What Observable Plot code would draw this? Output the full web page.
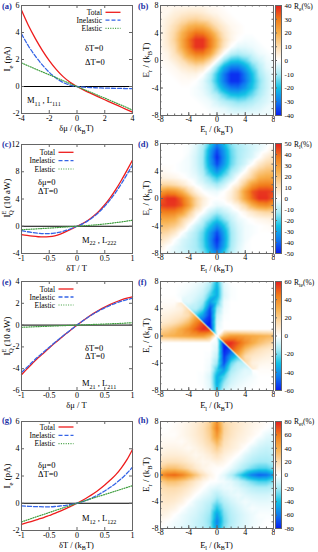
<!DOCTYPE html>
<html><head><meta charset="utf-8">
<script src="https://cdn.jsdelivr.net/npm/d3@7"></script>
<script src="https://cdn.jsdelivr.net/npm/@observablehq/plot@0.6"></script>
<style>
body{margin:0;background:#fff;}
#fig{position:relative;width:318px;height:552px;overflow:hidden;}
#fig > svg{position:absolute;}
</style></head><body><div id="fig"></div>
<script>
// ---------------- data: line panels ----------------
const xA = [-4,-3.5,-3,-2.5,-2,-1.5,-1,-0.5,0,0.5,1,1.5,2,2.5,3,3.5,4];
const totA = [5.65,4.52,3.55,2.68,1.92,1.27,0.73,0.31,0,-0.27,-0.51,-0.75,-0.98,-1.21,-1.44,-1.67,-1.9];
const inelA = [3.9,3.0,2.25,1.6,1.05,0.62,0.3,0.1,0,-0.05,-0.08,-0.1,-0.12,-0.13,-0.14,-0.15,-0.15];
const elA = [1.75,1.52,1.3,1.08,0.87,0.65,0.43,0.21,0,-0.22,-0.43,-0.65,-0.86,-1.08,-1.3,-1.52,-1.75];

const xC = [-1,-0.9,-0.8,-0.7,-0.6,-0.5,-0.4,-0.3,-0.2,-0.1,0,0.1,0.2,0.3,0.4,0.5,0.6,0.7,0.8,0.9,1];
const totC = [-1.22,-1.35,-1.46,-1.54,-1.57,-1.53,-1.4,-1.15,-0.8,-0.4,0,0.38,0.88,1.5,2.25,3.15,4.2,5.4,6.75,8.2,9.7];
const inelC = [-0.64,-0.8,-0.93,-1.02,-1.08,-1.08,-1.0,-0.85,-0.62,-0.33,0,0.35,0.82,1.4,2.1,2.95,3.9,5.0,6.25,7.6,9.0];
const elC = [-0.5,-0.46,-0.42,-0.37,-0.32,-0.27,-0.22,-0.16,-0.11,-0.05,0,0.06,0.12,0.18,0.26,0.34,0.43,0.53,0.64,0.76,0.9];

const xE = [-1,-0.9,-0.8,-0.7,-0.6,-0.5,-0.4,-0.3,-0.2,-0.1,0,0.1,0.2,0.3,0.4,0.5,0.6,0.7,0.8,0.9,1];
const totE = [-4.55,-4.02,-3.5,-3.0,-2.55,-2.1,-1.65,-1.22,-0.8,-0.4,0,0.38,0.74,1.08,1.38,1.65,1.9,2.12,2.32,2.48,2.6];
const inelE = [-4.35,-3.87,-3.37,-2.9,-2.46,-2.03,-1.6,-1.18,-0.78,-0.39,0,0.37,0.72,1.04,1.33,1.58,1.81,2.02,2.19,2.34,2.45];
const elE = [-0.2,-0.18,-0.16,-0.14,-0.12,-0.1,-0.08,-0.06,-0.04,-0.02,0,0.02,0.04,0.06,0.08,0.1,0.12,0.14,0.16,0.19,0.22];

const xG = [-1,-0.9,-0.8,-0.7,-0.6,-0.5,-0.4,-0.3,-0.2,-0.1,0,0.1,0.2,0.3,0.4,0.5,0.6,0.7,0.8,0.9,1];
const totG = [-1.55,-1.43,-1.31,-1.18,-1.05,-0.9,-0.75,-0.58,-0.4,-0.2,0,0.22,0.46,0.72,1.01,1.34,1.7,2.1,2.6,3.2,3.95];
const inelG = [-0.2,-0.22,-0.24,-0.25,-0.26,-0.26,-0.24,-0.2,-0.15,-0.08,0,0.12,0.27,0.45,0.66,0.9,1.17,1.47,1.81,2.2,2.64];
const elG = [-1.37,-1.23,-1.09,-0.95,-0.82,-0.68,-0.54,-0.41,-0.27,-0.14,0,0.13,0.26,0.39,0.52,0.64,0.77,0.9,1.03,1.16,1.29];

const ticksA_x = [-4,-2,0,2,4], ticksA_y = [-2,0,2,4,6];
const ticks11 = [-1,-0.5,0,0.5,1];
const ticksC_y = [-4,0,4,8,12], ticksE_y = [-6,-4,-2,0,2,4], ticksG_y = [-2,0,2,4,6];

// ---------------- data: heat maps (rows from E_r = 8 down to -8, columns E_l = -8..8) ----------------
const coordE = [-8,-7,-6,-5,-4,-3,-2,-1,0,1,2,3,4,5,6,7,8];
const heatTicks = [-8,-4,0,4,8];
const reB = [
[1,2,2,2,2,2,2,1,1,0,0,0,0,0,0,0,0],
[2,2,4,5,6,6,5,3,2,1,0,0,0,0,0,0,0],
[2,4,6,9,11,12,10,8,5,2,1,0,0,0,0,0,0],
[2,5,9,14,19,21,20,15,9,5,2,1,0,0,0,0,0],
[2,6,11,19,26,31,30,24,15,7,3,1,0,0,0,0,0],
[2,6,12,21,31,38,38,30,19,9,3,0,-1,-1,0,0,0],
[2,5,10,20,30,38,38,30,18,7,0,-3,-3,-2,-1,0,0],
[1,3,8,15,24,30,30,23,11,0,-7,-9,-7,-5,-2,-1,0],
[1,2,5,9,15,19,18,11,0,-11,-18,-19,-15,-9,-5,-2,-1],
[0,1,2,5,7,9,7,0,-11,-23,-30,-30,-24,-15,-8,-3,-1],
[0,0,1,2,3,3,0,-7,-18,-30,-38,-38,-30,-20,-10,-5,-2],
[0,0,0,1,1,0,-3,-9,-19,-30,-38,-38,-31,-21,-12,-6,-2],
[0,0,0,0,0,-1,-3,-7,-15,-24,-30,-31,-26,-19,-11,-6,-2],
[0,0,0,0,0,-1,-2,-5,-9,-15,-20,-21,-19,-14,-9,-5,-2],
[0,0,0,0,0,0,-1,-2,-5,-8,-10,-12,-11,-9,-6,-4,-2],
[0,0,0,0,0,0,0,-1,-2,-3,-5,-6,-6,-5,-4,-2,-2],
[0,0,0,0,0,0,0,0,-1,-1,-2,-2,-2,-2,-2,-2,-1]];
const rlD = [
[0,0,0,0,-1,-4,-10,-22,-36,-26,-15,-11,-8,-6,-4,-2,0],
[0,0,0,0,-1,-5,-12,-30,-44,-32,-18,-12,-9,-6,-3,0,5],
[0,0,0,0,-2,-6,-13,-32,-48,-34,-19,-12,-8,-5,0,6,10],
[0,0,0,-1,-2,-6,-13,-30,-44,-32,-18,-11,-6,0,8,13,15],
[2,1,0,-1,-2,-5,-11,-24,-34,-24,-13,-7,0,10,17,20,21],
[5,4,3,1,-1,-3,-8,-15,-22,-15,-8,0,8,16,25,27,27],
[14,14,12,8,3,-1,-4,-8,-12,-7,0,6,18,30,36,37,36],
[30,34,32,25,14,5,0,-2,-3,0,5,15,30,42,47,47,45],
[42,48,48,40,28,15,6,1,0,1,6,15,28,40,48,48,42],
[45,47,47,42,30,15,5,0,-3,-2,0,5,14,25,32,34,30],
[36,37,36,30,18,6,0,-7,-12,-8,-4,-1,3,8,12,14,14],
[27,27,25,16,8,0,-8,-15,-22,-15,-8,-3,-1,1,3,4,5],
[21,20,17,10,0,-7,-13,-24,-34,-24,-11,-5,-2,-1,0,1,2],
[15,13,8,0,-6,-11,-18,-32,-44,-30,-13,-6,-2,-1,0,0,0],
[10,6,0,-5,-8,-12,-19,-34,-48,-32,-13,-6,-2,0,0,0,0],
[5,0,-3,-6,-9,-12,-18,-32,-44,-30,-12,-5,-1,0,0,0,0],
[0,-2,-4,-6,-8,-11,-15,-26,-36,-22,-10,-4,-1,0,0,0,0]];
const rteF = [
[0,0,0,0,-1,-2,-4,-10,-30,-4,0,0,0,0,0,0,0],
[0,0,0,-1,-2,-4,-7,-16,-34,-5,-1,0,0,0,0,0,0],
[0,0,0,-2,-4,-6,-10,-24,-34,-6,-1,0,0,0,0,0,0],
[1,1,1,0,-5,-9,-15,-38,-26,-3,0,0,0,0,0,0,0],
[3,3,4,6,0,-12,-22,-52,-16,-2,0,0,0,0,0,0,0],
[5,6,8,10,15,0,-38,-56,-10,-1,0,0,0,0,0,0,0],
[8,10,13,18,26,42,0,-60,-6,0,0,0,0,0,0,0,0],
[16,20,25,32,40,50,58,0,-3,0,0,0,0,0,0,0,0],
[26,28,30,32,34,36,36,28,0,28,36,36,34,32,30,28,26],
[0,0,0,0,0,0,0,0,-3,0,58,50,40,32,25,20,16],
[0,0,0,0,0,0,0,0,-6,-60,0,42,26,18,13,10,8],
[0,0,0,0,0,0,0,-1,-10,-56,-38,0,15,10,8,6,5],
[0,0,0,0,0,0,0,-2,-16,-52,-22,-12,0,6,4,3,3],
[0,0,0,0,0,0,0,-3,-26,-38,-15,-9,-5,0,1,1,1],
[0,0,0,0,0,0,-1,-6,-34,-24,-10,-6,-4,-2,0,0,0],
[0,0,0,0,0,0,-1,-5,-34,-16,-7,-4,-2,-1,0,0,0],
[0,0,0,0,0,0,0,-4,-30,-10,-4,-2,-1,0,0,0,0]];
// extra samples hugging the sharp line E_r = -E_l in panel (f)
const lineT = [-5,-4.5,-4,-3.5,-3,-2.5,-2,-1.5,-1,-0.5,0,0.5,1,1.5,2,2.5,3,3.5,4,4.5,5];
const belowF = [8,11,15,21,30,40,52,58,55,35,0,-30,-58,-60,-52,-40,-25,-17,-11,-8,-5];
const aboveF = [-5,-8,-11,-17,-25,-40,-52,-60,-58,-30,0,35,55,58,52,40,30,21,15,11,8];
const retH = [
[0,0,1,3,6,10,15,25,52,22,16,12,9,6,4,2,0],
[0,0,2,4,7,11,17,28,58,24,16,12,8,5,3,0,-3],
[1,1,1,4,7,11,16,26,50,22,15,10,7,4,0,-5,-7],
[3,3,3,2,5,9,14,22,38,18,12,8,5,0,-6,-9,-10],
[5,6,6,5,3,6,10,16,26,14,10,6,0,-7,-11,-13,-12],
[8,10,10,9,7,4,6,10,16,9,5,0,-7,-12,-15,-16,-14],
[15,17,17,15,11,7,4,5,8,5,0,-6,-12,-17,-20,-20,-18],
[25,32,32,27,20,12,6,3,1,0,-5,-12,-20,-27,-32,-32,-25],
[50,62,65,58,45,30,16,6,0,-6,-16,-30,-45,-58,-65,-62,-50],
[25,32,32,27,20,12,5,0,-1,-3,-6,-12,-20,-27,-32,-32,-25],
[18,20,20,17,12,6,0,-5,-8,-5,-4,-7,-11,-15,-17,-17,-15],
[14,16,15,12,7,0,-5,-9,-16,-10,-6,-4,-7,-9,-10,-10,-8],
[12,13,11,7,0,-6,-10,-14,-26,-16,-10,-6,-3,-5,-6,-6,-5],
[10,9,6,0,-5,-8,-12,-18,-38,-22,-14,-9,-5,-2,-3,-3,-3],
[7,5,0,-4,-7,-10,-15,-22,-50,-26,-16,-11,-7,-4,-1,-1,-1],
[3,0,-3,-5,-8,-12,-16,-24,-58,-28,-17,-11,-7,-4,-2,0,0],
[0,-2,-4,-6,-9,-12,-16,-22,-52,-25,-15,-10,-6,-3,-1,0,0]];
const cbB = [-40,-30,-20,-10,0,10,20,30,40];
const cbD = [-50,-40,-30,-20,-10,0,10,20,30,40,50];
const cbF = [-60,-40,-20,0,20,40,60];
const cbH = [-80,-60,-40,-20,0,20,40,60,80];
const cmapStops = [-1,-0.75,-0.5,-0.25,0,0.25,0.5,0.75,1];
const cmapColors = ["#0a1ef0","#0f7cf0","#12c2e6","#a6ebf6","#ffffff","#fddcae","#f8b04c","#f17d1a","#e62020"];

// ---------------- drawing ----------------
const fig = document.getElementById("fig");
const SERIF = "'Liberation Serif', 'DejaVu Serif', serif";
const FR = "#666";
const LX0 = 21, LW = 111;

function linePlot(xs, tot, inel, el, xDom, yDom, xT, yT, top, fh) {
  const MT = 5, MB = 12, ML = LX0, MR = 4;
  const rows = xs.map((x, i) => ({x, tot: tot[i], inel: inel[i], el: el[i]}));
  const svg = Plot.plot({
    width: ML + LW + MR, height: MT + fh + MB,
    marginLeft: ML, marginRight: MR, marginTop: MT, marginBottom: MB,
    style: {fontFamily: SERIF, fontSize: "8px", background: "transparent", color: "#000"},
    x: {domain: xDom}, y: {domain: yDom},
    marks: [
      Plot.ruleY([0], {stroke: "#000", strokeWidth: 1}),
      Plot.line(rows, {x: "x", y: "tot", stroke: "#ee1c1c", strokeWidth: 1.3, curve: "monotone-x"}),
      Plot.line(rows, {x: "x", y: "inel", stroke: "#3464e6", strokeWidth: 1.3, strokeDasharray: "4,2", curve: "monotone-x"}),
      Plot.line(rows, {x: "x", y: "el", stroke: "#3f9e3f", strokeWidth: 1.2, strokeDasharray: "1,1.4", curve: "monotone-x"}),
      Plot.frame({stroke: FR}),
      Plot.tickX(xT, {x: d => d, insetTop: fh - 3, stroke: FR}),
      Plot.tickX(xT, {x: d => d, insetBottom: fh - 3, stroke: FR}),
      Plot.tickY(yT, {y: d => d, insetLeft: LW - 3, stroke: FR}),
      Plot.tickY(yT, {y: d => d, insetRight: LW - 3, stroke: FR}),
      Plot.axisX(xT, {tickSize: 0, tickPadding: 1.5, tickFormat: d => String(d), label: null}),
      Plot.axisY(yT, {tickSize: 0, tickPadding: 2, tickFormat: d => String(d), label: null})
    ]
  });
  svg.style.left = "0px"; svg.style.top = (top - MT) + "px";
  fig.append(svg);
}

function heatPlot(rows, extra, M, cbT, top, fh) {
  const pts = [];
  rows.forEach((r, i) => r.forEach((v, j) => pts.push({x: coordE[j], y: coordE[16 - i], v})));
  for (const p of extra) pts.push(p);
  const MT = 5, MB = 10, ML = 20, MR = 2, W = 113;
  const color = {type: "linear", domain: cmapStops.map(f => f * M), range: cmapColors, clamp: true};
  const svg = Plot.plot({
    width: ML + W + MR, height: MT + fh + MB,
    marginLeft: ML, marginRight: MR, marginTop: MT, marginBottom: MB,
    style: {fontFamily: SERIF, fontSize: "8px", background: "transparent", color: "#000"},
    x: {domain: [-8, 8]}, y: {domain: [-8, 8]}, color,
    marks: [
      Plot.raster(pts, {x: "x", y: "y", fill: "v", interpolate: "barycentric", x1: -8, x2: 8, y1: -8, y2: 8}),
      Plot.frame({stroke: FR}),
      Plot.tickX(coordE, {x: d => d, insetTop: fh - 1.5, stroke: FR}),
      Plot.tickX(coordE, {x: d => d, insetBottom: fh - 1.5, stroke: FR}),
      Plot.tickY(coordE, {y: d => d, insetLeft: W - 1.5, stroke: FR}),
      Plot.tickY(coordE, {y: d => d, insetRight: W - 1.5, stroke: FR}),
      Plot.tickX(heatTicks, {x: d => d, insetTop: fh - 3, stroke: FR}),
      Plot.tickY(heatTicks, {y: d => d, insetRight: W - 3, stroke: FR}),
      Plot.axisX(heatTicks, {tickSize: 0, tickPadding: 1, tickFormat: d => String(d), label: null}),
      Plot.axisY(heatTicks, {tickSize: 0, tickPadding: 2, tickFormat: d => String(d), label: null})
    ]
  });
  svg.style.left = (160 - ML) + "px"; svg.style.top = (top - MT) + "px";
  fig.append(svg);
  const cb = Plot.plot({
    width: 6 + 26, height: MT + fh + MB,
    marginLeft: 0, marginRight: 26, marginTop: MT, marginBottom: MB,
    style: {fontFamily: SERIF, fontSize: "7px", background: "transparent", color: "#000"},
    x: {domain: [0, 1], axis: null}, y: {domain: [-M, M]}, color,
    marks: [
      Plot.raster({fill: (x, y) => y, x1: 0, x2: 1, y1: -M, y2: M}),
      Plot.frame({stroke: FR}),
      Plot.tickY(cbT, {y: d => d, insetRight: 4, stroke: FR}),
      Plot.axisY(cbT, {anchor: "right", tickSize: 0, tickPadding: 3, tickFormat: d => String(d), label: null})
    ]
  });
  cb.style.left = "275px"; cb.style.top = (top - MT) + "px";
  fig.append(cb);
}

linePlot(xA, totA, inelA, elA, [-4, 4], [-2, 6], ticksA_x, ticksA_y, 5, 108);
linePlot(xC, totC, inelC, elC, [-1, 1], [-4, 12], ticks11, ticksC_y, 144, 109);
linePlot(xE, totE, inelE, elE, [-1, 1], [-6, 4], ticks11, ticksE_y, 281, 109);
linePlot(xG, totG, inelG, elG, [-1, 1], [-2, 6], ticks11, ticksG_y, 421, 109);

const extraF = [];
lineT.forEach((t, i) => {
  if (!Number.isInteger(t)) extraF.push({x: t, y: -t, v: 0});
  extraF.push({x: t - 0.1, y: -t - 0.1, v: belowF[i]});
  extraF.push({x: t + 0.1, y: -t + 0.1, v: aboveF[i]});
});
heatPlot(reB, [], 40, cbB, 5, 110);
heatPlot(rlD, [], 50, cbD, 143, 110);
heatPlot(rteF, extraF, 60, cbF, 281, 109);
heatPlot(retH, [], 80, cbH, 421, 107);

// ---------------- overlay text ----------------
const ov = d3.select(fig).append("svg").attr("width", 318).attr("height", 552)
  .style("left", "0px").style("top", "0px").attr("font-family", SERIF);
function txt(x, y, parts, o = {}) {
  const size = o.size || 8;
  const t = ov.append("text").attr("x", x).attr("y", y).attr("font-size", size)
    .attr("text-anchor", o.anchor || "start").attr("fill", o.fill || "#000");
  if (o.bold) t.attr("font-weight", "bold");
  if (o.rotate) t.attr("transform", `rotate(-90 ${x} ${y})`);
  let shift = 0;
  for (const p of parts) {
    const [s, kind, dx] = Array.isArray(p) ? p : [p];
    const target = kind === "sub" ? size * 0.32 : kind === "sup" ? -size * 0.4 : 0;
    const ts = t.append("tspan").attr("dy", target - shift).text(s);
    if (kind) ts.attr("font-size", size * 0.72);
    if (dx) ts.attr("dx", dx);
    shift = target;
  }
}
const PL = "#1c2fa6";
[["(a)", 2, 9], ["(b)", 138, 9], ["(c)", 2, 147], ["(d)", 138, 147],
 ["(e)", 2, 285], ["(f)", 138, 285], ["(g)", 2, 423], ["(h)", 138, 423]]
  .forEach(([s, x, y]) => txt(x, y, [s], {bold: true, fill: PL, size: 8.5}));

// axis titles
txt(76.5, 131, ["δμ / (k", ["B", "sub"], "T)"], {anchor: "middle", size: 8.5});
txt(76.5, 270.5, ["δT / T"], {anchor: "middle", size: 8.5});
txt(76.5, 408, ["δμ / T"], {anchor: "middle", size: 8.5});
txt(76.5, 547.5, ["δT / (k", ["B", "sub"], "T)"], {anchor: "middle", size: 8.5});
txt(10, 59, ["I", ["e", "sub"], " (pA)"], {anchor: "middle", size: 9, rotate: true});
txt(10, 198, ["I", ["E", "sup"], ["Q", "sub", -4.5], " (10 aW)"], {anchor: "middle", size: 9, rotate: true});
txt(10, 336, ["I", ["E", "sup"], ["Q", "sub", -4.5], " (10 aW)"], {anchor: "middle", size: 9, rotate: true});
txt(10, 476, ["I", ["e", "sub"], " (pA)"], {anchor: "middle", size: 9, rotate: true});
[[132, 60], [270.5, 198], [408, 335.5], [547.5, 474.5]].forEach(([xb, yc]) => {
  txt(216.5, xb, ["E", ["l", "sub"], " / (k", ["B", "sub"], "T)"], {anchor: "middle", size: 8.5});
  txt(149, yc, ["E", ["r", "sub"], " / (k", ["B", "sub"], "T)"], {anchor: "middle", size: 9, rotate: true});
});
txt(294, 8.5, ["R", ["e", "sub"], "(%)"], {size: 7.5});
txt(294, 146.5, ["R", ["l", "sub"], "(%)"], {size: 7.5});
txt(294, 284.5, ["R", ["te", "sub"], "(%)"], {size: 7.5});
txt(294, 424, ["R", ["et", "sub"], "(%)"], {size: 7.5});

// legends
function legend(xEnd, ys) {
  const styles = [["#ee1c1c", null, 1.3], ["#3464e6", "4,2", 1.3], ["#3f9e3f", "1,1.4", 1.2]];
  ["Total", "Inelastic", "Elastic"].forEach((s, i) => {
    txt(xEnd, ys[i] + 2.6, [s], {anchor: "end", size: 7.5});
    const ln = ov.append("line").attr("x1", xEnd + 3.5).attr("x2", xEnd + 18.5)
      .attr("y1", ys[i]).attr("y2", ys[i]).attr("stroke", styles[i][0]).attr("stroke-width", styles[i][2]);
    if (styles[i][1]) ln.attr("stroke-dasharray", styles[i][1]);
  });
}
legend(102, [12.3, 20.2, 28.3]);
legend(55, [152.3, 160.7, 169]);
legend(55, [289, 297, 305]);
legend(55, [427, 435.3, 443.7]);

// annotations
txt(85, 51, ["δT=0"], {size: 8.5}); txt(85, 65, ["ΔT=0"], {size: 8.5});
txt(27, 103, ["M", ["11", "sub"], " , L", ["111", "sub"]], {size: 8.5});
txt(38, 185, ["δμ=0"], {size: 8.5}); txt(38, 194, ["ΔT=0"], {size: 8.5});
txt(82, 242.5, ["M", ["22", "sub"], " , L", ["222", "sub"]], {size: 8.5});
txt(85, 350.5, ["δT=0"], {size: 8.5}); txt(85, 359, ["ΔT=0"], {size: 8.5});
txt(82, 386, ["M", ["21", "sub"], " , L", ["211", "sub"]], {size: 8.5});
txt(38, 467.5, ["δμ=0"], {size: 8.5}); txt(38, 476.5, ["ΔT=0"], {size: 8.5});
txt(82, 521, ["M", ["12", "sub"], " , L", ["122", "sub"]], {size: 8.5});
</script></body></html>
